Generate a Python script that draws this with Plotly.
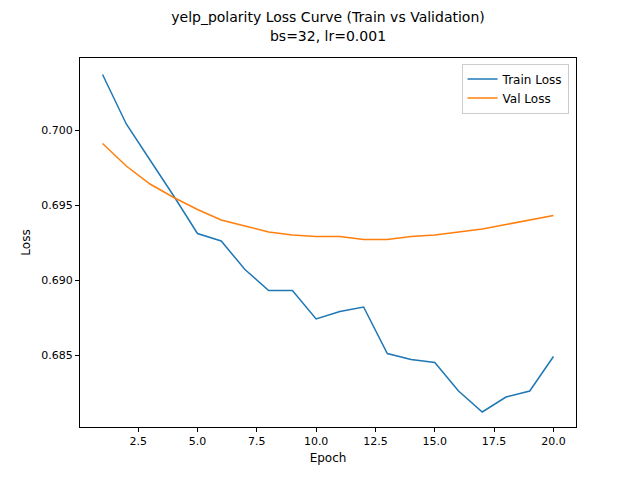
import plotly.graph_objects as go

epochs = list(range(1, 21))
train_loss = [0.7037, 0.7004, 0.6980, 0.6956, 0.6931, 0.6926, 0.6907, 0.6893, 0.6893, 0.6874,
              0.6879, 0.6882, 0.6851, 0.6847, 0.6845, 0.6826, 0.6812, 0.6822, 0.6826, 0.6849]
val_loss = [0.6991, 0.6976, 0.6964, 0.6955, 0.6947, 0.6940, 0.6936, 0.6932, 0.6930, 0.6929,
            0.6929, 0.6927, 0.6927, 0.6929, 0.6930, 0.6932, 0.6934, 0.6937, 0.6940, 0.6943]
x_ticks = [2.5, 5.0, 7.5, 10.0, 12.5, 15.0, 17.5, 20.0]
y_ticks = [0.685, 0.690, 0.695, 0.700]

fig = go.Figure()
fig.add_trace(go.Scatter(x=epochs, y=train_loss, mode="lines", name="Train Loss",
                         line=dict(color="#1f77b4", width=1.5)))
fig.add_trace(go.Scatter(x=epochs, y=val_loss, mode="lines", name="Val Loss",
                         line=dict(color="#ff7f0e", width=1.5)))

axis_style = dict(showgrid=False, zeroline=False, showline=True, mirror=True,
                  linecolor="black", linewidth=1, ticks="outside", ticklen=4,
                  tickcolor="black", tickfont=dict(size=11, color="black"))

fig.update_layout(
    width=640, height=480,
    paper_bgcolor="white", plot_bgcolor="white",
    font=dict(family="DejaVu Sans", color="black"),
    margin=dict(l=72, r=72, t=50, b=61),
    title=dict(text="yelp_polarity Loss Curve (Train vs Validation)<br>bs=32, lr=0.001",
               x=0.5, xanchor="center", y=0.97, yanchor="top", font=dict(size=14)),
    xaxis=dict(title=dict(text="Epoch", font=dict(size=12), standoff=6), range=[0.05, 20.95],
               tickvals=x_ticks, ticktext=[f"{v:.1f}" for v in x_ticks], **axis_style),
    yaxis=dict(title=dict(text="Loss", font=dict(size=12), standoff=8), range=[0.6802, 0.7048],
               tickvals=y_ticks, ticktext=[f"{v:.3f}" for v in y_ticks], **axis_style),
    legend=dict(x=0.985, y=0.985, xanchor="right", yanchor="top", bgcolor="white",
                bordercolor="#cccccc", borderwidth=1, font=dict(size=12)),
)

fig.write_html("out.html")
